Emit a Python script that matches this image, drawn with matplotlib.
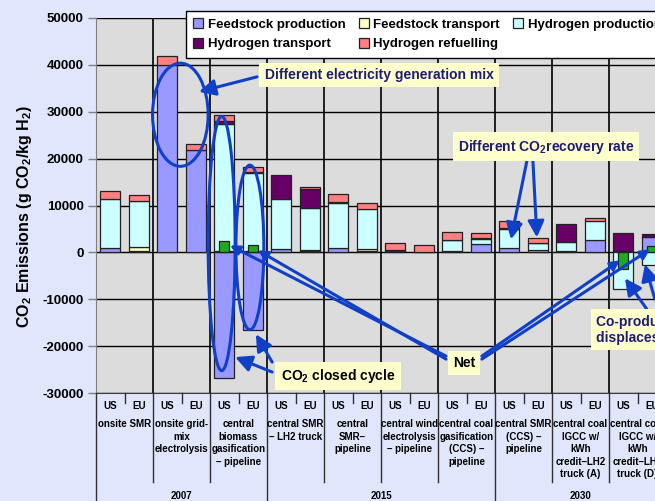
import numpy as np
import matplotlib
matplotlib.use('Agg')
import matplotlib.pyplot as plt
from matplotlib.patches import Ellipse, Patch
from matplotlib.lines import Line2D
from matplotlib.transforms import blended_transform_factory

plt.rcParams['font.family'] = ['Liberation Sans', 'DejaVu Sans']
plt.rcParams['font.weight'] = 'bold'
plt.rcParams['mathtext.default'] = 'regular'

# ---------------- data ----------------
groups = ["onsite SMR", "onsite grid-\nmix\nelectrolysis",
          "central\nbiomass\ngasification\n\u2013 pipeline",
          "central SMR\n\u2013 LH2 truck", "central\nSMR\u2013\npipeline",
          "central wind\nelectrolysis\n\u2013 pipeline",
          "central coal\ngasification\n(CCS) \u2013\npipeline",
          "central SMR\n(CCS) \u2013\npipeline",
          "central coal\nIGCC w/\nkWh\ncredit\u2013LH2\ntruck (A)",
          "central coal\nIGCC w/\nkWh\ncredit\u2013LH2\ntruck (D)"]
regions = ["US", "EU"]
years = ["2007", "2015", "2030"]
groups_per_year = [3, 4, 3]

series_labels = ["Feedstock production", "Feedstock transport", "Hydrogen production",
                 "Hydrogen transport", "Hydrogen refuelling"]
feedstock_production = [850, 200, 40000, 21900, -26900, -16500, 800, 400, 850, 400,
                        0, 0, 400, 1850, 850, 500, 280, 2620, 300, 3340]
feedstock_transport = [0, 1000, 0, 0, 400, 200, 0, 200, 0, 240,
                       0, 0, 0, 0, 0, 0, 0, 0, 0, 0]
hydrogen_production = [10550, 9860, 0, 0, 27000, 16700, 10600, 8900, 9580, 8660,
                       0, 0, 2150, 1000, 4100, 1450, 1900, 4180, -7720, -2700]
hydrogen_transport = [0, 0, 0, 0, 700, 200, 5100, 4050, 360, 0,
                      500, 100, 100, 130, 300, 100, 3780, 0, 3740, 350]
hydrogen_refuelling = [1700, 1280, 1800, 1200, 1260, 1100, 0, 350, 1700, 1270,
                       1560, 1400, 1750, 1120, 1420, 1060, 0, 430, 0, 280]
net = [None, None, None, None, 2460, 1600, None, None, None, None,
       None, None, None, None, None, None, None, None, -3600, 1400]

series = [feedstock_production, feedstock_transport, hydrogen_production,
          hydrogen_transport, hydrogen_refuelling]
colors = ["#9999FF", "#FFFFCC", "#CCFFFF", "#660066", "#FF8080"]
net_color = "#1FAA1F"
blue = "#1040C8"
navy = "#1C1C78"

# ---------------- figure ----------------
W, H = 655, 501
fig = plt.figure(figsize=(W / 100, H / 100), dpi=100)
fig.patch.set_facecolor('#E0E6FC')
n_slots = 2 * (len(groups) + 1)
ax = fig.add_axes([96 / W, 1 - 393 / H, 627 / W, 375 / H])
ax.set_facecolor('#DCDCDC')
ax.set_xlim(0, n_slots)
ax.set_ylim(-30000, 50000)

n = len(feedstock_production)
x = np.arange(n) + 0.5
pos_base = np.zeros(n)
neg_base = np.zeros(n)
for vals, col in zip(series, colors):
    v = np.array(vals, float)
    base = np.where(v >= 0, pos_base, neg_base)
    m = v != 0
    ax.bar(x[m], v[m], 0.7, bottom=base[m], color=col, edgecolor='#222222',
           linewidth=0.9, zorder=3)
    pos_base += np.where(v > 0, v, 0)
    neg_base += np.where(v < 0, v, 0)

net_idx = [i for i, v in enumerate(net) if v is not None]
ax.bar(x[net_idx], [net[i] for i in net_idx], 0.35, color=net_color,
       edgecolor='#222222', linewidth=0.9, zorder=4)

# grid
ax.set_yticks(np.arange(-30000, 50001, 10000))
ax.set_yticklabels([str(v) for v in range(-30000, 50001, 10000)], fontsize=9.5,
                   fontweight='bold')
ax.yaxis.grid(True, color='black', linewidth=1.0, zorder=1)
ax.set_axisbelow(True)
for b in range(0, n_slots + 1, 2):
    ax.axvline(b, color='black', linewidth=1.2, zorder=1)
ax.set_xticks([])
ax.tick_params(axis='y', direction='out', length=6, width=1, color='#808080', pad=3)
for s in ['top', 'right']:
    ax.spines[s].set_visible(False)
ax.spines['left'].set_color('#808080')
ax.spines['bottom'].set_color('#404040')

fig.text(25 / W, 1 - 217 / H, 'CO$_2$ Emissions (g CO$_2$/kg H$_2$)', rotation=90,
         ha='center', va='center', fontsize=11.5, fontweight='bold')

# ---------------- category table under the axis ----------------
tr = blended_transform_factory(ax.transData, fig.transFigure)
def fy(py):
    return 1 - py / H

for s in range(0, n_slots + 1):
    if s % 2 == 1:
        fig.add_artist(Line2D([s, s], [fy(393), fy(403)], transform=tr, color='#303030', lw=1))
year_bounds = np.cumsum([0] + groups_per_year) * 2
for g in range(len(groups) + 1):
    b = 2 * g
    bottom = 501 if b in year_bounds else 482
    fig.add_artist(Line2D([b, b], [fy(393), fy(bottom)], transform=tr, color='#303030', lw=1))

for i in range(n):
    fig.text(x[i], fy(406), regions[i % 2], transform=tr, ha='center', va='center',
             fontsize=7, fontweight='bold')
for g, name in enumerate(groups):
    fig.text(2 * g + 1, fy(419), name, transform=tr, ha='center', va='top',
             fontsize=7, fontweight='bold', linespacing=1.32)
for k, yr in enumerate(years):
    cx = (year_bounds[k] + year_bounds[k + 1]) / 2
    fig.text(cx, fy(496), yr, transform=tr, ha='center', va='center',
             fontsize=7, fontweight='bold')

# ---------------- legend ----------------
handles = [Patch(facecolor=c, edgecolor='#222222', linewidth=0.9) for c in colors]
order = [0, 3, 1, 4, 2]
leg = fig.legend([handles[i] for i in order], [series_labels[i] for i in order],
                 loc='upper left', bbox_to_anchor=(186 / W, 1 - 11 / H), ncol=3,
                 frameon=True, fancybox=False, edgecolor='black', framealpha=1,
                 prop={'size': 9.5, 'weight': 'bold'}, handlelength=0.75,
                 handleheight=0.75, handletextpad=0.35, columnspacing=1.0,
                 borderpad=0.55, labelspacing=0.55, borderaxespad=0)
leg.get_frame().set_linewidth(1.0)

# ---------------- annotations ----------------
def box_text(xd, yd, s, color, ha='center', size=10):
    ax.text(xd, yd, s, ha=ha, va='center', fontsize=size, fontweight='bold', color=color,
            zorder=8, bbox=dict(boxstyle='square,pad=0.38', facecolor='#FFFFCC',
                                edgecolor='none'), clip_on=False)

def arrow(x0, y0, x1, y1, big=True):
    ax.annotate('', xy=(x1, y1), xytext=(x0, y0),
                arrowprops=dict(arrowstyle='-|>,head_length=0.7,head_width=0.35' if big
                                else '-|>,head_length=0.4,head_width=0.2',
                                color=blue, lw=2.2, mutation_scale=14, shrinkA=0, shrinkB=0),
                zorder=7, annotation_clip=False)

box_text(9.93, 37870, 'Different electricity generation mix', navy)
arrow(5.65, 37450, 3.61, 34260)
ax.add_patch(Ellipse((2.96, 29360), 1.95, 22000, fill=False, edgecolor=blue, lw=2.2, zorder=6))
ax.add_patch(Ellipse((4.41, 1900), 0.95, 54250, fill=False, edgecolor=blue, lw=2.2, zorder=6))
ax.add_patch(Ellipse((5.4, 1060), 0.98, 35100, fill=False, edgecolor=blue, lw=2.2, zorder=6))

box_text(8.49, -26380, 'CO$_2$ closed cycle', 'black')
arrow(6.18, -25530, 4.88, -22340)
arrow(6.18, -23400, 5.61, -17450)

box_text(12.91, -23620, 'Net', 'black')
arrow(12.28, -22130, 4.70, 1490, big=False)
arrow(12.28, -22770, 5.68, 430, big=False)
arrow(13.54, -22130, 18.39, -1700, big=False)
arrow(13.54, -22770, 19.44, 640, big=False)

box_text(15.79, 22550, 'Different CO$_2$recovery rate', navy)
arrow(15.12, 19570, 14.56, 2770)
arrow(15.33, 19570, 15.47, 3190)

box_text(17.54, -16490, 'Co-product credit\ndisplaces grid mix', navy, ha='left')
arrow(19.33, -12130, 18.56, -5530)
arrow(19.61, -10000, 19.26, -2550)

fig.savefig('out.png', dpi=100, facecolor=fig.get_facecolor())
